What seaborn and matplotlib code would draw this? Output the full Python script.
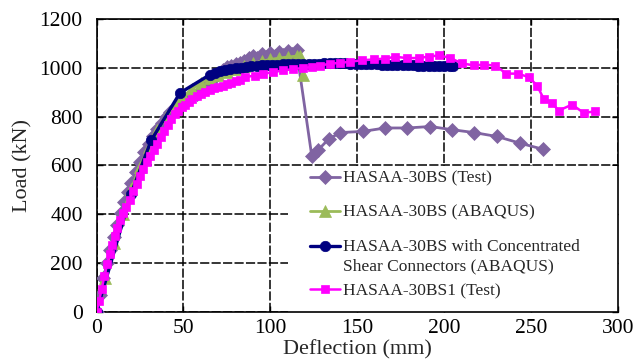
import matplotlib
matplotlib.use("Agg")
import matplotlib.pyplot as plt
import seaborn as sns
import pandas as pd
from matplotlib.patches import Rectangle
from matplotlib.legend_handler import HandlerLine2D

# ---------------- data ----------------
test_x = [0, 2, 4, 6, 8, 10, 12, 14, 16, 18, 20, 22.5, 25, 27.5, 30, 32.5, 35, 37.5, 40,
          42.5, 45, 47.5, 50, 52.5, 55, 57.5, 60, 62.5, 65, 67.5, 70, 72.5, 75, 77.5, 80,
          82.5, 85, 87.5, 90, 92.5, 95, 97.5, 100, 102.5, 105, 107.5, 110, 112.5, 115,
          123.8, 127.6, 133.4, 140.1, 153.2, 166, 178.8, 191.9, 204.4, 217.2, 230.3, 243.3, 256.5]
test_y = [0, 70, 140, 200, 255, 305, 355, 405, 450, 490, 530, 575, 615, 655, 690, 720, 750, 775, 800,
          820, 835, 850, 862, 870, 880, 893, 905, 920, 940, 958, 975, 990, 1003, 1010, 1018,
          1022, 1030, 1040, 1050, 1040, 1058, 1045, 1062, 1050, 1065, 1052, 1068, 1058, 1072,
          637, 665, 708, 735, 740, 754, 754, 760, 747, 735, 719, 692, 667]

abq_x = [0, 5, 10, 15, 20, 25, 30, 35, 40, 45, 50, 55, 60, 65, 70, 75, 80, 85, 90, 95,
         100, 105, 110, 115, 117, 119]
abq_y = [0, 140, 280, 400, 505, 595, 675, 745, 800, 850, 885, 915, 940, 958, 972, 985, 996,
         1008, 1019, 1028, 1035, 1041, 1045, 1049, 1050, 972]

conc_x = [0, 19.8, 31.4, 48, 65.3, 68, 71, 74, 77, 80, 83, 86, 89, 92, 95, 98, 101, 104, 107,
          110, 113, 116, 119, 122, 125, 128, 131, 134, 137, 140, 143, 146, 149, 152, 155, 158,
          161, 164, 167, 170, 173, 176, 179, 182, 185, 188, 191, 194, 197, 200, 203, 205]
conc_y = [0, 483, 703, 898, 973, 980, 986, 991, 995, 999, 1002, 1005, 1007, 1009, 1011, 1012,
          1013, 1014, 1015, 1016, 1016, 1017, 1017, 1018, 1018, 1018, 1019, 1019, 1019, 1019,
          1019, 1018, 1018, 1017, 1017, 1016, 1015, 1014, 1013, 1013, 1012, 1012, 1011, 1011,
          1010, 1010, 1010, 1010, 1010, 1010, 1010, 1010]

bs1_x = [0, 1.5, 3, 4.5, 6, 7.5, 9, 10.5, 12, 13.5, 15.4, 17, 19, 21, 23, 25, 27, 29, 31, 33,
         35, 37, 39, 41, 43, 45, 47, 49, 51, 53, 55, 57.5, 60, 62.5, 65, 67.5, 70, 72.5, 75,
         77.5, 80, 82.5, 85.4, 91.2, 96, 101.7, 107.5, 113.2, 119, 123.8, 128.6, 134.3, 140.1,
         145.9, 152.6, 159.3, 166, 171.7, 178.5, 185.2, 190.9, 197.2, 203.4, 210.1, 216.8, 223,
         229.3, 235.6, 242.1, 248.5, 253.3, 257.1, 261.9, 265.7, 273.4, 280.1, 286.8]
bs1_y = [0, 45, 95, 145, 195, 235, 275, 310, 345, 375, 405, 430, 460, 495, 525, 555, 585, 615,
         640, 665, 690, 715, 740, 765, 790, 810, 825, 838, 850, 862, 872, 885, 895, 903, 910,
         916, 922, 928, 934, 940, 946, 952, 963, 969, 976, 984, 990, 996, 1000, 1004, 1010,
         1018, 1021, 1026, 1032, 1035, 1039, 1046, 1041, 1041, 1047, 1052, 1041, 1019, 1011,
         1014, 1010, 977, 977, 963, 928, 874, 857, 825, 850, 816, 822]

labels = ["HASAA-30BS (Test)", "HASAA-30BS (ABAQUS)",
          "HASAA-30BS with Concentrated\nShear Connectors (ABAQUS)", "HASAA-30BS1 (Test)"]
x_ticks = [0, 50, 100, 150, 200, 250, 300]
y_ticks = [0, 200, 400, 600, 800, 1000, 1200]

# ---------------- style ----------------
sns.set_style("white")
plt.rcParams["font.family"] = ["Liberation Serif", "DejaVu Serif"]

fig = plt.figure(figsize=(6.38, 3.64), dpi=100)
ax = fig.add_axes([0.1513, 0.1437, 0.8178, 0.8033])

series = [
    (test_x, test_y, "#8064A2", "D", 7.0, 2.0),
    (abq_x, abq_y, "#9BBB59", "^", 8.0, 2.0),
    (conc_x, conc_y, "#000080", "o", 7.5, 2.4),
    (bs1_x, bs1_y, "#FF00FF", "s", 5.8, 1.8),
]
for (xs, ys, col, mk, ms, lw), lab in zip(series, labels):
    df = pd.DataFrame({"x": xs, "y": ys})
    sns.lineplot(data=df, x="x", y="y", ax=ax, sort=False, estimator=None,
                 color=col, marker=mk, markersize=ms, linewidth=lw,
                 markeredgecolor=col, markeredgewidth=0.5, label=lab, zorder=3)

ax.set_xlim(0, 300)
ax.set_ylim(0, 1200)
ax.set_xticks(x_ticks)
ax.set_yticks(y_ticks)
ax.set_xticklabels([str(v) for v in x_ticks])
ax.set_yticklabels([str(v) for v in y_ticks])
ax.tick_params(axis="both", direction="in", length=4, width=1, labelsize=15.5,
               colors="black", top=True, right=True, bottom=True, left=True)
ax.tick_params(axis="y", pad=10)
ax.tick_params(axis="x", pad=5)
ax.set_xlabel("Deflection (mm)", fontsize=16, labelpad=2)
ax.set_ylabel("Load (kN)", fontsize=16, labelpad=5)

for s in ax.spines.values():
    s.set_visible(True)
    s.set_color("black")
    s.set_linewidth(1.2)

ax.set_axisbelow(True)
ax.grid(True, which="major", color="black", linestyle=(0, (6, 1.5)), linewidth=1.1)

# white background box behind legend
ax.add_patch(Rectangle((0.367, 0.0), 0.633, 0.497, transform=ax.transAxes,
                       facecolor="white", edgecolor="none", zorder=1))


class FirstLineHandler(HandlerLine2D):
    """Place the handle next to the first line of a two-line label."""
    def __init__(self, shift, **kw):
        super().__init__(**kw)
        self.shift = shift

    def create_artists(self, legend, orig_handle, xdescent, ydescent, width,
                       height, fontsize, trans):
        return super().create_artists(legend, orig_handle, xdescent,
                                      ydescent - 2 * self.shift, width, height,
                                      fontsize, trans)


handles, labs = ax.get_legend_handles_labels()
common = dict(frameon=False, fontsize=12.5, handlelength=1.7, handletextpad=0.15,
              borderaxespad=0, borderpad=0)
legA = ax.legend(handles[:3], labs[:3], loc="upper left", bbox_to_anchor=(0.41, 0.483),
                 labelspacing=1.03, handler_map={handles[2]: FirstLineHandler(7.8)},
                 **common)
legA.get_texts()[2].set_linespacing(1.35)
ax.add_artist(legA)
legB = ax.legend(handles[3:], labs[3:], loc="upper left", bbox_to_anchor=(0.41, 0.097),
                 **common)

fig.savefig("out.png", dpi=100)
